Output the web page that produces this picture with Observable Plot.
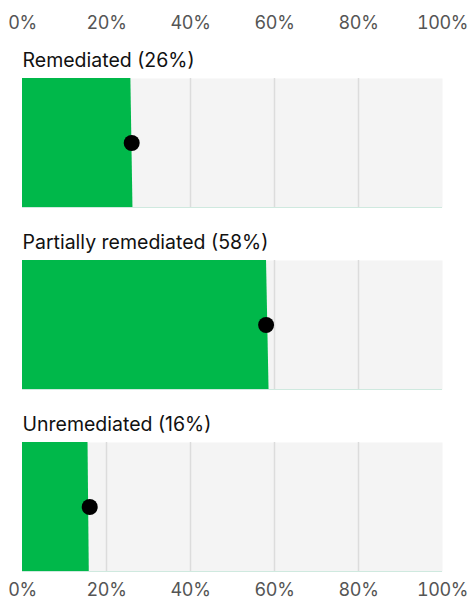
<!DOCTYPE html>
<html><head><meta charset="utf-8">
<script src="https://cdn.jsdelivr.net/npm/d3@7"></script>
<script src="https://cdn.jsdelivr.net/npm/@observablehq/plot@0.6"></script>
<style>
body{margin:0;background:#fff;}
g[aria-label="x-axis tick label"] text{letter-spacing:-0.4px;}
</style>
</head><body><div id="chart"></div>
<script>
const categories = ["Remediated", "Partially remediated", "Unremediated"];
const shares = [26, 58, 16];
const edgeTop = [25.8, 58.1, 15.6];
const edgeBottom = [26.3, 58.7, 15.9];
const tickValues = [0, 20, 40, 60, 80, 100];
const gridValues = [20, 40, 60, 80];

const rows = categories.map((c, i) => ({cat: c, share: shares[i]}));
const areaRows = categories.flatMap((c, i) => [
  {cat: c, y: 1, x: edgeTop[i]},
  {cat: c, y: 0, x: edgeBottom[i]}
]);

const chart = Plot.plot({
  width: 468,
  height: 605,
  marginTop: 77,
  marginBottom: 33,
  marginLeft: 22,
  marginRight: 26,
  style: {fontFamily: "Inter, sans-serif", background: "#fff", overflow: "visible"},
  x: {domain: [0, 100]},
  y: {domain: [0, 1], axis: null},
  fy: {domain: categories, paddingInner: 0.29, paddingOuter: 0, axis: null},
  marks: [
    Plot.frame({fill: "#f4f4f4", stroke: null}),
    Plot.ruleX(gridValues, {stroke: "#dcdcdc", strokeWidth: 1.5}),
    Plot.areaX(areaRows, {x1: 0, x2: "x", y: "y", fy: "cat", fill: "#00b84a"}),
    Plot.ruleY([0], {stroke: "#cfe9df", strokeWidth: 1}),
    Plot.dot(rows, {x: "share", y: 0.5, fy: "cat", r: 8, fill: "#000", stroke: null}),
    Plot.text(rows, {fy: "cat", frameAnchor: "top-left", text: d => `${d.cat} (${d.share}%)`, lineAnchor: "bottom", dy: -12, fontSize: 19.5, fill: "#111"}),
    Plot.axisX({anchor: "top", ticks: tickValues, tickFormat: d => d + "%", tickSize: 0, tickPadding: 50, label: null, fontSize: 18, fill: "#555"}),
    Plot.axisX({anchor: "bottom", ticks: tickValues, tickFormat: d => d + "%", tickSize: 0, tickPadding: 12, label: null, fontSize: 18, fill: "#555"})
  ]
});
document.getElementById("chart").appendChild(chart);
</script>
</body></html>
